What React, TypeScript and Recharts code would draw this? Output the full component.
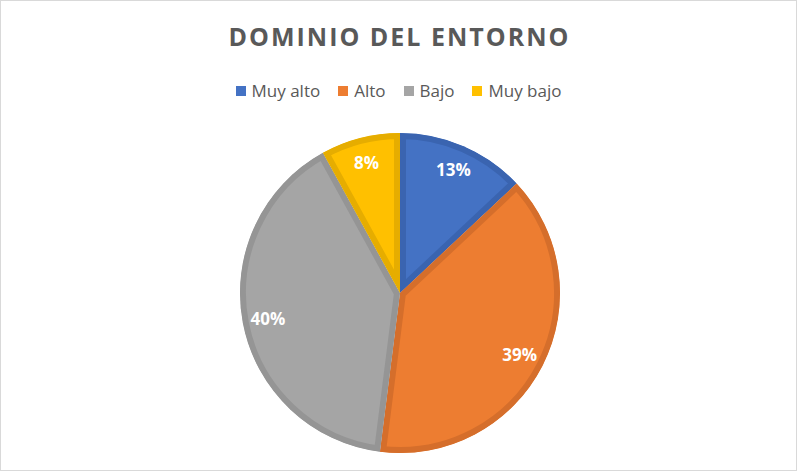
import React from 'react';
import { PieChart, Pie, Cell, Legend, Sector } from 'recharts';

const categories = ['Muy alto', 'Alto', 'Bajo', 'Muy bajo'];
const values = [13, 39, 40, 8];
const fillColors = ['#4472C4', '#ED7D31', '#A5A5A5', '#FFC000'];
const edgeColors = ['#3A64B0', '#D56E2B', '#959595', '#E6AD00'];

const data = categories.map((name, i) => ({ name, value: values[i] }));

const RADIAN = Math.PI / 180;

// slice with its border drawn on the inside only, like the office charts
const InsetSlice = (props: any) => {
  const { index } = props;
  const id = `slice-clip-${index}`;
  return (
    <g>
      <defs>
        <clipPath id={id}>
          <Sector {...props} stroke="none" />
        </clipPath>
      </defs>
      <Sector
        {...props}
        fill={fillColors[index]}
        stroke={edgeColors[index]}
        strokeWidth={12}
        clipPath={`url(#${id})`}
      />
    </g>
  );
};

const renderLabel = (props: any) => {
  const { cx, cy, midAngle, outerRadius, value } = props;
  const r = outerRadius * 0.84;
  const x = cx + r * Math.cos(-midAngle * RADIAN);
  const y = cy + r * Math.sin(-midAngle * RADIAN);
  return (
    <text
      x={x}
      y={y}
      fill="#FFFFFF"
      textAnchor="middle"
      dominantBaseline="central"
      fontFamily="'Open Sans', sans-serif"
      fontWeight={700}
      fontSize={17}
    >
      {`${value}%`}
    </text>
  );
};

const LegendContent = () => (
  <div
    style={{
      display: 'flex',
      justifyContent: 'center',
      gap: 18,
      fontFamily: "'Open Sans', sans-serif",
      fontSize: 17,
      color: '#595959',
    }}
  >
    {categories.map((c, i) => (
      <div key={c} style={{ display: 'flex', alignItems: 'center' }}>
        <span
          style={{ display: 'inline-block', width: 10, height: 10, background: fillColors[i], marginRight: 6 }}
        />
        <span>{c}</span>
      </div>
    ))}
  </div>
);

export default function App() {
  return (
    <div
      style={{
        position: 'absolute',
        left: 0,
        top: 0,
        width: 797,
        height: 471,
        boxSizing: 'border-box',
        border: '1px solid #D9D9D9',
        background: '#FFFFFF',
      }}
    >
      <div
        style={{
          position: 'absolute',
          top: 18,
          left: 0,
          width: 797,
          textAlign: 'center',
          fontFamily: "'Open Sans', sans-serif",
          fontWeight: 700,
          fontSize: 25,
          letterSpacing: 2,
          color: '#595959',
        }}
      >
        DOMINIO DEL ENTORNO
      </div>
      <div style={{ position: 'absolute', left: 0, top: 0 }}>
        <PieChart width={795} height={469} margin={{ top: 0, right: 0, bottom: 0, left: 0 }}>
          <Legend
            content={<LegendContent />}
            verticalAlign="top"
            wrapperStyle={{ top: 78, left: 0, width: 795 }}
          />
          <Pie
            data={data}
            dataKey="value"
            nameKey="name"
            cx={399}
            cy={269}
            outerRadius={160}
            startAngle={90}
            endAngle={-270}
            label={renderLabel}
            labelLine={false}
            shape={InsetSlice}
            stroke="none"
            isAnimationActive={false}
          >
            {data.map((d, i) => (
              <Cell key={d.name} fill={fillColors[i]} stroke={edgeColors[i]} strokeWidth={6} />
            ))}
          </Pie>
        </PieChart>
      </div>
    </div>
  );
}
